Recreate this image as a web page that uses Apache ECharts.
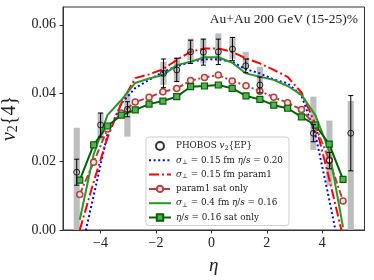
<!DOCTYPE html>
<html><head><meta charset="utf-8">
<script src="https://cdn.jsdelivr.net/npm/echarts@6/dist/echarts.min.js"></script>
<style>html,body{margin:0;padding:0;background:#fff}#c{width:374px;height:280px}</style>
</head><body><div id="c"></div>
<script>
const modelEta = [-4.75,-4.25,-3.75,-3.25,-2.75,-2.25,-1.75,-1.25,-0.75,-0.25,0.25,0.75,1.25,1.75,2.25,2.75,3.25,3.75,4.25,4.75];
const sigma015EtaS020 = [-0.008,0.010,0.028,0.037,0.0415,0.0439,0.0462,0.0478,0.0492,0.0499,0.0499,0.0492,0.0470,0.0458,0.0440,0.0429,0.0393,0.0280,0.0090,-0.011];
const sigma015Param1 = [0.000,0.014,0.027,0.037,0.0444,0.0455,0.0470,0.0497,0.0521,0.0531,0.0531,0.0521,0.0502,0.0487,0.0468,0.0448,0.0402,0.0310,0.0150,-0.002];
const param1SatOnly = [0.0104,0.0198,0.0295,0.0342,0.0374,0.0388,0.0404,0.0414,0.0437,0.0446,0.0453,0.0436,0.0422,0.0406,0.0388,0.0372,0.0352,0.0305,0.0205,0.0085];
const sigma04EtaS016 = [0.003,0.022,0.0336,0.038,0.043,0.0443,0.0453,0.0482,0.0492,0.0505,0.0505,0.0489,0.0458,0.0448,0.0439,0.0421,0.0395,0.0336,0.0232,0.0008];
const etaS016SatOnly = [0.0146,0.0249,0.0304,0.0336,0.0351,0.0368,0.0377,0.0390,0.0419,0.0421,0.0424,0.0414,0.0392,0.0382,0.0365,0.0356,0.0331,0.0307,0.0251,0.0148];
const phobosEta = [-4.86,-4.0,-3.03,-1.73,-1.25,-0.75,-0.29,0.25,0.76,1.24,1.75,3.68,4.26,5.03];
const phobosV2 = [0.0169,0.0307,0.0353,0.0458,0.0468,0.0521,0.0520,0.0521,0.0529,0.0480,0.0424,0.0283,0.0203,0.0283];
const phobosStat = [0.0038,0.0035,0.0022,0.0042,0.0034,0.0034,0.0038,0.0037,0.0034,0.0020,0.0023,0.0025,0.0024,0.0110];
const phobosSysLow = [0.0,0.0263,0.0273,0.0424,0.0434,0.0497,0.0487,0.0493,0.0500,0.0470,0.0404,0.0234,0.0130,0.0];
const phobosSysHigh = [0.0299,0.0343,0.0400,0.0492,0.0505,0.0560,0.0560,0.0575,0.0565,0.0521,0.0477,0.0390,0.0320,0.0377];
const xTicks = [-4,-2,0,2,4];
const yTicks = [0,0.02,0.04,0.06];
const seriesNames = ['PHOBOS','s015es020','s015p1','p1sat','s04es016','es016sat'];
const legendLabels = {
  'PHOBOS': 'PHOBOS {it|v}{sub|2}{EP}',
  's015es020': '{it|σ}{sub|⊥} = 0.15 fm {it|η}/{it|s} = 0.20',
  's015p1': '{it|σ}{sub|⊥} = 0.15 fm param1',
  'p1sat': 'param1 sat only',
  's04es016': '{it|σ}{sub|⊥} = 0.4 fm {it|η}/{it|s} = 0.16',
  'es016sat': '{it|η}/{it|s} = 0.16 sat only'
};
const zip = (xs, ys) => xs.map((x, i) => [x, ys[i]]);
const LF = 'DejaVu Serif';
const TF = 'Liberation Serif';
const NOSYM = {color: 'rgba(0,0,0,0)', borderWidth: 0, borderColor: 'rgba(0,0,0,0)'};

const chart = echarts.init(document.getElementById('c'), null, {renderer: 'canvas'});
chart.setOption({
  animation: false,
  backgroundColor: '#fff',
  title: {
    text: 'Au+Au 200 GeV (15-25)%', right: 16, top: 12, padding: 0,
    textStyle: {fontFamily: TF, fontSize: 13.5, fontWeight: 'normal', color: '#222'}
  },
  grid: {left: 63, top: 7, width: 301.5, height: 223, show: true, borderColor: '#333', borderWidth: 1, containLabel: false, outerBoundsMode: 'none'},
  xAxis: {
    type: 'value', min: -5.355, max: 5.525,
    name: 'η', nameLocation: 'middle', nameGap: 26,
    nameTextStyle: {fontFamily: TF, fontStyle: 'italic', fontSize: 19, color: '#222'},
    axisLine: {show: true, onZero: false, lineStyle: {color: '#333', width: 1}},
    axisTick: {show: true, inside: false, length: 3.5, lineStyle: {color: '#333'}, customValues: xTicks},
    axisLabel: {margin: 6, fontFamily: TF, fontSize: 14, color: '#222', customValues: xTicks,
      formatter: v => v < 0 ? '\u2212' + (-v) : String(v)},
    splitLine: {show: false}
  },
  yAxis: {
    type: 'value', min: 0, max: 0.0652,
    name: '{it|v}{sub|2}{4}', nameLocation: 'middle', nameGap: 42, nameRotate: 90,
    nameTextStyle: {fontFamily: TF, fontSize: 20, color: '#222',
      rich: {it: {fontFamily: TF, fontStyle: 'italic', fontSize: 20, color: '#222'},
             sub: {fontFamily: TF, fontSize: 14, color: '#222', padding: [8, 0, 0, 0]}}},
    axisLine: {show: true, onZero: false, lineStyle: {color: '#333', width: 1}},
    axisTick: {show: true, inside: false, length: 3.5, lineStyle: {color: '#333'}, customValues: yTicks},
    axisLabel: {margin: 7, fontFamily: TF, fontSize: 14, color: '#222', customValues: yTicks,
      formatter: v => v.toFixed(2)},
    splitLine: {show: false}
  },
  legend: {
    orient: 'vertical', left: 146, top: 137,
    data: seriesNames,
    itemWidth: 22, itemHeight: 8, itemGap: 4.3,
    padding: [4, 6, 3, 2],
    backgroundColor: '#fff', borderColor: '#cfcfcf', borderWidth: 1, borderRadius: 3,
    formatter: n => legendLabels[n],
    textStyle: {fontFamily: LF, fontSize: 8.8, color: '#222', lineHeight: 10,
      rich: {it: {fontFamily: LF, fontStyle: 'italic', fontSize: 8.8, color: '#222'},
             sub: {fontFamily: LF, fontSize: 6.3, color: '#222', padding: [4, 0, 0, 0]}}}
  },
  series: [
    {
      type: 'custom', name: 'sys', z: 1, clip: true,
      data: phobosEta.map((e, i) => [e, phobosSysLow[i], phobosSysHigh[i]]),
      encode: {x: 0, y: [1, 2]},
      renderItem: (params, api) => {
        const x = api.value(0), lo = api.value(1), hi = api.value(2);
        const p1 = api.coord([x - 0.11, hi]);
        const p2 = api.coord([x + 0.11, lo]);
        return {type: 'rect', shape: {x: p1[0], y: p1[1], width: p2[0] - p1[0], height: p2[1] - p1[1]},
          style: {fill: '#bdbdbd'}};
      }
    },
    {
      type: 'line', name: 's015es020', z: 3, data: zip(modelEta, sigma015EtaS020), symbol: 'none',
      lineStyle: {color: '#0000ff', width: 2, type: [2, 2.6]}, itemStyle: NOSYM
    },
    {
      type: 'line', name: 's015p1', z: 3, data: zip(modelEta, sigma015Param1), symbol: 'none',
      lineStyle: {color: '#ff0000', width: 2, type: [10, 3, 2, 3]}, itemStyle: NOSYM
    },
    {
      type: 'line', name: 'p1sat', z: 3, data: zip(modelEta, param1SatOnly), symbol: 'circle', symbolSize: 6,
      lineStyle: {color: '#b3413c', width: 2, type: [7, 2.5, 2, 2.5]},
      itemStyle: {color: '#f3e3e2', borderColor: '#b3413c', borderWidth: 1.5}
    },
    {
      type: 'line', name: 's04es016', z: 3, data: zip(modelEta, sigma04EtaS016), symbol: 'none',
      lineStyle: {color: '#2a962a', width: 2}, itemStyle: NOSYM
    },
    {
      type: 'line', name: 'es016sat', z: 3, data: zip(modelEta, etaS016SatOnly), symbol: 'rect', symbolSize: 6,
      lineStyle: {color: '#006400', width: 2},
      itemStyle: {color: '#5aae5a', borderColor: '#006400', borderWidth: 1.2}
    },
    {
      type: 'custom', name: 'stat', z: 4, clip: true,
      data: phobosEta.map((e, i) => [e, phobosV2[i], phobosStat[i]]),
      encode: {x: 0, y: 1},
      renderItem: (params, api) => {
        const x = api.value(0), y = api.value(1), e = api.value(2);
        const t = api.coord([x, y + e]), b = api.coord([x, y - e]);
        const c = 2.5, st = {stroke: '#000', lineWidth: 1};
        return {type: 'group', children: [
          {type: 'line', shape: {x1: t[0], y1: t[1], x2: b[0], y2: b[1]}, style: st},
          {type: 'line', shape: {x1: t[0] - c, y1: t[1], x2: t[0] + c, y2: t[1]}, style: st},
          {type: 'line', shape: {x1: b[0] - c, y1: b[1], x2: b[0] + c, y2: b[1]}, style: st}
        ]};
      }
    },
    {
      type: 'scatter', name: 'PHOBOS', z: 5, data: zip(phobosEta, phobosV2), symbol: 'circle', symbolSize: 6,
      itemStyle: {color: 'rgba(255,255,255,0)', borderColor: '#000', borderWidth: 1}
    }
  ]
});
</script></body></html>
